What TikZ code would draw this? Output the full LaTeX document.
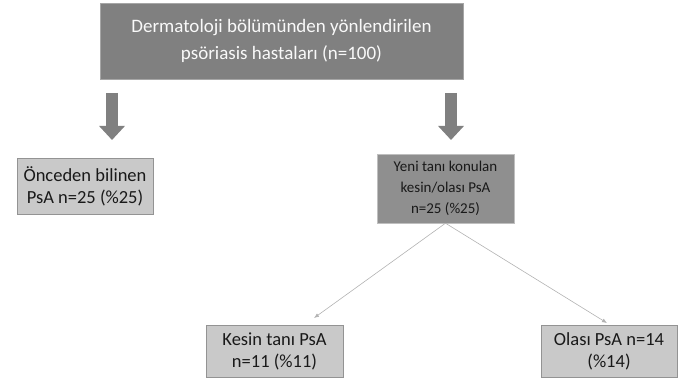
\documentclass[tikz,border=0pt]{standalone}
\usepackage{fontspec}
\setmainfont{Carlito}
\usepackage{tikz}
\usetikzlibrary{arrows.meta}
\definecolor{darkbox}{HTML}{808080}
\definecolor{midbox}{HTML}{8F8F8F}
\definecolor{lightbox}{HTML}{C9C9C9}
\tikzstyle{box} = [draw, align=center, inner sep=2pt, font={\fontsize{18.5}{22}\selectfont}]
\tikzstyle{main} = [box, fill=darkbox, draw=gray!70, text=white!95!gray, font={\fontsize{19}{27}\selectfont}]
\tikzstyle{newcase} = [box, fill=midbox, draw=gray!50, text=black!90, font={\fontsize{15}{21}\selectfont}]
\tikzstyle{result} = [box, fill=lightbox, draw=gray!85, text=black!90]
\tikzstyle{blockarrow} = [draw=darkbox, line width=12pt, -{Triangle[width=25pt,length=14pt]}]
\tikzstyle{split} = [draw=gray!60, line width=0.6pt, -{Latex[length=5pt,width=4pt]}]

\begin{document}
\begin{tikzpicture}[x=1pt,y=-1pt]
    \useasboundingbox (0,0) rectangle (685,382);
    \node[main,minimum width=363pt,minimum height=76pt](hasta) at (281.5,41){Dermatoloji bölümünden yönlendirilen\\psöriasis hastaları (n=100)};
    \node[result,minimum width=136pt,minimum height=56pt](bilinen) at (85,186){Önceden bilinen\\PsA n=25 (\%25)};
    \node[newcase,minimum width=137pt,minimum height=69pt](yeni) at (445.5,188.5){Yeni tanı konulan\\kesin/olası PsA\\n=25 (\%25)};
    \node[result,minimum width=137pt,minimum height=52pt](kesin) at (274.5,351){Kesin tanı PsA\\n=11 (\%11)};
    \node[result,minimum width=136pt,minimum height=52pt](olasi) at (609,351){Olası PsA n=14\\(\%14)};
    \coordinate(la) at (112,93);
    \coordinate(lb) at (112,140);
    \coordinate(ra) at (451,93);
    \coordinate(rb) at (451,140);
    \coordinate(kend) at (314,318);
    \coordinate(oend) at (607,323);
    \draw[blockarrow](la)--(lb);
    \draw[blockarrow](ra)--(rb);
    \draw[split](yeni.south)--(kend);
    \draw[split](yeni.south)--(oend);
  \end{tikzpicture}
\end{document}
